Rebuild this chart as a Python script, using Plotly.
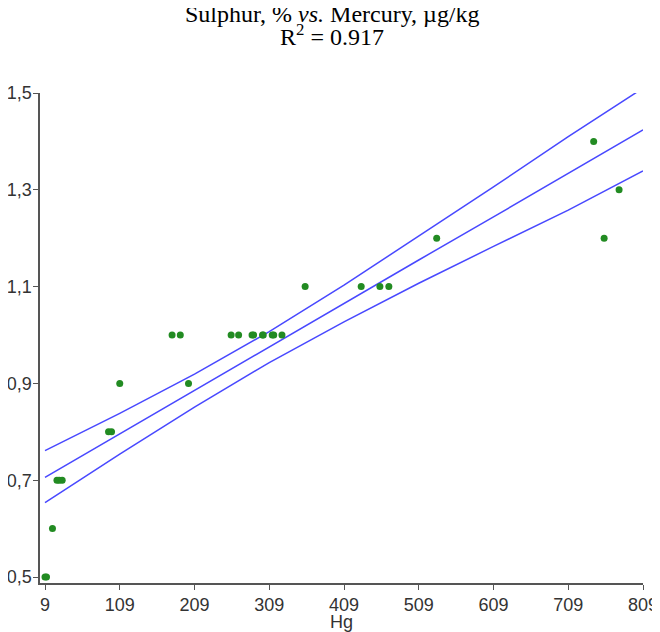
import plotly.graph_objects as go

# Scatter data (Hg, µg/kg vs Sulphur, %)
hg = [9, 11, 19, 25, 28, 32, 94, 98, 109, 179, 190, 201, 258, 268, 286, 288,
      300, 301, 313, 315, 326, 357, 432, 457, 469, 533, 743, 757, 777]
sulphur = [0.5, 0.5, 0.6, 0.7, 0.7, 0.7, 0.8, 0.8, 0.9, 1.0, 1.0, 0.9, 1.0, 1.0, 1.0, 1.0,
           1.0, 1.0, 1.0, 1.0, 1.0, 1.1, 1.1, 1.1, 1.1, 1.2, 1.4, 1.2, 1.3]

# Regression line and confidence band, read at the tick positions
line_x = [9, 109, 209, 309, 409, 509, 609, 709, 809]
fit_y = [0.706, 0.796, 0.885, 0.975, 1.065, 1.155, 1.244, 1.334, 1.424]
upper_y = [0.761, 0.838, 0.919, 1.007, 1.103, 1.204, 1.306, 1.410, 1.510]
lower_y = [0.6535, 0.754, 0.851, 0.943, 1.027, 1.107, 1.183, 1.258, 1.339]

x_ticks = [9, 109, 209, 309, 409, 509, 609, 709, 809]
y_ticks = [0.5, 0.7, 0.9, 1.1, 1.3, 1.5]

title_line1 = "Sulphur, % <i>vs.</i> Mercury, µg/kg"
title_line2 = "R<sup>2</sup> = 0.917"

line_style = dict(color="rgba(40,40,255,0.85)", width=1.5)
tick_font = dict(family="Liberation Sans, Arial, sans-serif", size=18, color="#333333")
serif = dict(family="Liberation Serif, Times New Roman, serif", size=24, color="black")

fig = go.Figure()
for ys in (upper_y, fit_y, lower_y):
    fig.add_trace(go.Scatter(x=line_x, y=ys, mode="lines", line=line_style,
                             hoverinfo="skip", showlegend=False))
fig.add_trace(go.Scatter(x=hg, y=sulphur, mode="markers",
                         marker=dict(color="#228B22", size=7),
                         showlegend=False))

axis_common = dict(
    showgrid=False, zeroline=False, showline=True, automargin=False,
    linecolor="#555555", linewidth=1.5,
    ticks="outside", ticklen=5, tickwidth=1.2, tickcolor="#555555",
    tickfont=tick_font,
)

# page body has an 8px margin, so the figure is 8px smaller than the window
fig.update_layout(
    width=652, height=624,
    margin=dict(l=32, r=17, t=85, b=49),
    paper_bgcolor="white", plot_bgcolor="white",
    separators=",.",
    xaxis=dict(
        range=[2.31, 809], tickvals=x_ticks, ticktext=[str(v) for v in x_ticks],
        title=dict(text="Hg", standoff=0, font=tick_font),
        **axis_common,
    ),
    yaxis=dict(
        range=[0.4876, 1.5], tickvals=y_ticks, tickformat=".1f",
        ticklabelstandoff=-2,
        **axis_common,
    ),
)

fig.add_annotation(text=title_line1, font=serif, xref="paper", yref="paper",
                   x=0.485, y=1 + (85 - 6) / 490, xanchor="center", yanchor="middle",
                   showarrow=False)
fig.add_annotation(text=title_line2, font=serif, xref="paper", yref="paper",
                   x=0.485, y=1 + (85 - 27) / 490, xanchor="center", yanchor="middle",
                   showarrow=False)

fig.write_html("out.html")
